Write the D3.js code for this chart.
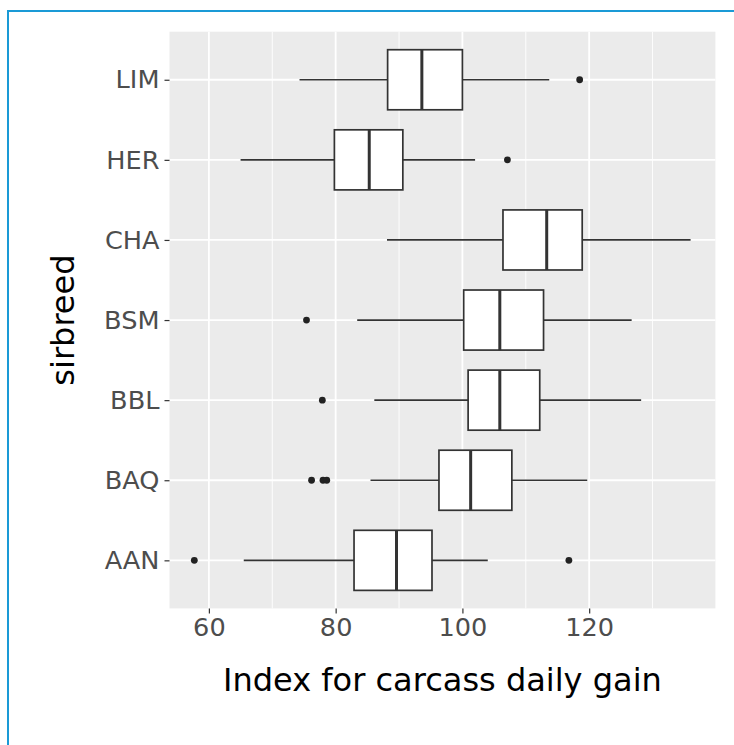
<!DOCTYPE html>
<html>
<head>
<meta charset="utf-8">
<script src="https://cdn.jsdelivr.net/npm/d3@7"></script>
<style>
  html, body { margin: 0; padding: 0; background: #fff; }
  svg { display: block; }
</style>
</head>
<body>
<svg id="chart" width="734" height="745"></svg>
<script>
// Categories top -> bottom
const categories = ["LIM", "HER", "CHA", "BSM", "BBL", "BAQ", "AAN"];
// Box statistics
const whiskerLow  = [74.3, 65.0, 88.1, 83.4, 86.1, 85.5, 65.5];
const q1          = [88.2, 79.8, 106.4, 100.2, 100.9, 96.3, 82.9];
const medians     = [93.6, 85.3, 113.3, 105.9, 105.9, 101.3, 89.6];
const q3          = [100.0, 90.6, 118.9, 112.8, 112.2, 107.8, 95.2];
const whiskerHigh = [113.7, 102.0, 136.0, 126.7, 128.2, 119.7, 104.0];
const outliers    = [[118.5], [107.1], [], [75.4], [77.9], [76.2, 78.0, 78.6], [57.7, 116.8]];
const xTicks      = [60, 80, 100, 120];
const xMinorTicks = [70, 90, 110, 130];
const xTitle = "Index for carcass daily gain";
const yTitle = "sirbreed";

const svg = d3.select("#chart");
const font = "'DejaVu Sans', sans-serif";

// Blue frame (top and left edges visible)
svg.append("rect")
  .attr("x", 8).attr("y", 11).attr("width", 800).attr("height", 800)
  .attr("fill", "none").attr("stroke", "#1a9ad6").attr("stroke-width", 2);

const panel = { left: 169.5, right: 715.4, top: 31.7, bottom: 608.4 };

const allVals = whiskerLow.concat(whiskerHigh, outliers.flat());
const [lo, hi] = d3.extent(allVals);
const pad = (hi - lo) * 0.05;
const x = d3.scaleLinear().domain([lo - pad, hi + pad]).range([panel.left, panel.right]);
const y = d3.scalePoint().domain(categories).range([panel.top, panel.bottom]).padding(0.6);
const half = y.step() * 0.375;

// Panel background
svg.append("rect")
  .attr("x", panel.left).attr("y", panel.top)
  .attr("width", panel.right - panel.left).attr("height", panel.bottom - panel.top)
  .attr("fill", "#ebebeb");

const grid = svg.append("g");
grid.selectAll("line.minor").data(xMinorTicks).join("line")
  .attr("x1", d => x(d)).attr("x2", d => x(d))
  .attr("y1", panel.top).attr("y2", panel.bottom)
  .attr("stroke", "#fff").attr("stroke-width", 0.9);
grid.selectAll("line.majx").data(xTicks).join("line")
  .attr("x1", d => x(d)).attr("x2", d => x(d))
  .attr("y1", panel.top).attr("y2", panel.bottom)
  .attr("stroke", "#fff").attr("stroke-width", 1.8);
grid.selectAll("line.majy").data(categories).join("line")
  .attr("x1", panel.left).attr("x2", panel.right)
  .attr("y1", d => y(d)).attr("y2", d => y(d))
  .attr("stroke", "#fff").attr("stroke-width", 1.8);

// Boxplots
const rows = categories.map((c, i) => ({
  c, lo: whiskerLow[i], q1: q1[i], med: medians[i], q3: q3[i], hi: whiskerHigh[i], out: outliers[i]
}));
const g = svg.append("g");
const stroke = "#333333";
rows.forEach(r => {
  const cy = y(r.c);
  g.append("line").attr("x1", x(r.lo)).attr("x2", x(r.q1)).attr("y1", cy).attr("y2", cy)
    .attr("stroke", stroke).attr("stroke-width", 1.7);
  g.append("line").attr("x1", x(r.q3)).attr("x2", x(r.hi)).attr("y1", cy).attr("y2", cy)
    .attr("stroke", stroke).attr("stroke-width", 1.7);
  g.append("rect").attr("x", x(r.q1)).attr("y", cy - half)
    .attr("width", x(r.q3) - x(r.q1)).attr("height", 2 * half)
    .attr("fill", "#fff").attr("stroke", stroke).attr("stroke-width", 1.7);
  g.append("line").attr("x1", x(r.med)).attr("x2", x(r.med))
    .attr("y1", cy - half).attr("y2", cy + half)
    .attr("stroke", stroke).attr("stroke-width", 3);
  g.selectAll(null).data(r.out).join("circle")
    .attr("cx", d => x(d)).attr("cy", cy).attr("r", 3.4).attr("fill", "#222");
});

// X axis
const xAxis = svg.append("g").attr("transform", `translate(0,${panel.bottom})`)
  .call(d3.axisBottom(x).tickValues(xTicks).tickSize(5).tickPadding(4).tickFormat(d3.format("d")));
xAxis.select(".domain").remove();
xAxis.selectAll(".tick line").attr("stroke", "#333").attr("stroke-width", 1.2);
xAxis.selectAll(".tick text").attr("fill", "#4d4d4d").style("font-family", font).style("font-size", "25.6px");

// Y axis
const yAxis = svg.append("g").attr("transform", `translate(${panel.left},0)`)
  .call(d3.axisLeft(y).tickSize(5).tickPadding(5));
yAxis.select(".domain").remove();
yAxis.selectAll(".tick line").attr("stroke", "#333").attr("stroke-width", 1.2);
yAxis.selectAll(".tick text").attr("fill", "#4d4d4d").style("font-family", font).style("font-size", "25.6px");

// Titles
svg.append("text")
  .attr("x", (panel.left + panel.right) / 2).attr("y", 691)
  .attr("text-anchor", "middle").attr("fill", "#000")
  .style("font-family", font).style("font-size", "32px")
  .text(xTitle);
svg.append("text")
  .attr("transform", `translate(74,${(panel.top + panel.bottom) / 2}) rotate(-90)`)
  .attr("text-anchor", "middle").attr("fill", "#000")
  .style("font-family", font).style("font-size", "32px")
  .text(yTitle);
</script>
</body>
</html>
